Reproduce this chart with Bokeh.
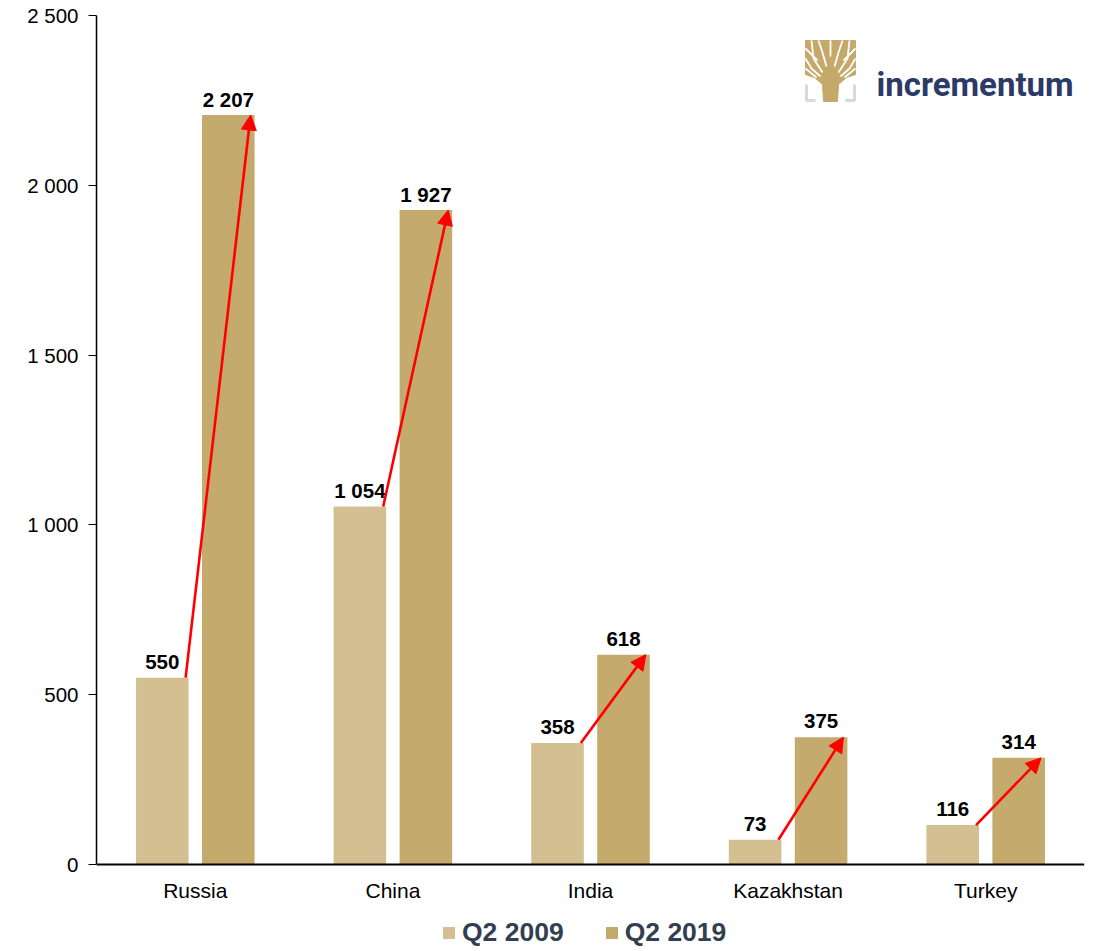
from bokeh.plotting import figure
from bokeh.models import (ColumnDataSource, Range1d, FixedTicker, Legend, LegendItem,
                          Arrow, NormalHead, Label, Span)
from bokeh.core.properties import value
from bokeh.embed import file_html
from bokeh.resources import INLINE

# ---- data ----
countries = ["Russia", "China", "India", "Kazakhstan", "Turkey"]
q2_2009 = [550, 1054, 358, 73, 116]
q2_2019 = [2207, 1927, 618, 375, 314]
y_ticks = [0, 500, 1000, 1500, 2000, 2500]
y_tick_labels = ["0", "500", "1 000", "1 500", "2 000", "2 500"]
series_names = ["Q2 2009", "Q2 2019"]

C_LIGHT = "#D3BF91"
C_DARK = "#C4AA6C"
FONT = "Liberation Sans"
Y_MAX = 2500

def fmt(v):
    return f"{v:,}".replace(",", " ")

idx = list(range(len(countries)))
centers = [i + 0.5 for i in idx]
OFF = 0.167
W = 0.266

src = ColumnDataSource(dict(
    c=centers,
    name=countries,
    zero=[0] * len(countries),
    x1=[c - OFF for c in centers],
    x2=[c + OFF for c in centers],
    v1=q2_2009,
    v2=q2_2019,
    l1=[fmt(v) for v in q2_2009],
    l2=[fmt(v) for v in q2_2019],
    xs=[c - OFF + W / 2 - 0.015 for c in centers],
    xe=[c + OFF + W / 2 - 0.02 for c in centers],
))

# layout: value axis 849 px tall, extra room below zero for labels & legend
PLOT_PX = 849
FRAME_H = 934
y_min = -Y_MAX * (FRAME_H - PLOT_PX) / PLOT_PX

p = figure(frame_width=988, frame_height=FRAME_H, output_backend="svg", toolbar_location=None,
           x_range=Range1d(0, 5), y_range=Range1d(y_min, Y_MAX), x_axis_location=None,
           min_border_left=96, min_border_right=2, min_border_top=15, min_border_bottom=0)
p.outline_line_color = None
p.xgrid.visible = False
p.ygrid.visible = False
p.background_fill_color = "white"

r1 = p.vbar(x="x1", top="v1", width=W, source=src, fill_color=C_LIGHT, line_color=None)
r2 = p.vbar(x="x2", top="v2", width=W, source=src, fill_color=C_DARK, line_color=None)

# x axis line at zero
p.add_layout(Span(location=0, dimension="width", line_color="black", line_width=2))

# category labels
p.text(x="c", y="zero", text="name", source=src, text_align="center", text_baseline="middle",
       y_offset=26, text_font=value(FONT), text_font_size="21px", text_color="black")

# arrows
p.add_layout(Arrow(end=NormalHead(size=15, fill_color="red", line_color="red", line_width=1),
                   x_start="xs", y_start="v1", x_end="xe", y_end="v2", source=src,
                   line_color="red", line_width=2.6))

# value labels
for xcol, ycol, lcol in (("x1", "v1", "l1"), ("x2", "v2", "l2")):
    p.text(x=xcol, y=ycol, text=lcol, source=src, text_align="center",
           text_baseline="alphabetic", y_offset=-16, text_font=value(FONT),
           text_font_style="bold", text_font_size="20.5px", text_color="black")

# y axis
p.yaxis.ticker = FixedTicker(ticks=y_ticks)
p.yaxis.bounds = (0, Y_MAX)
p.yaxis.major_label_overrides = {t: l for t, l in zip(y_ticks, y_tick_labels)}
p.yaxis.minor_tick_line_color = None
p.yaxis.major_tick_out = 8
p.yaxis.major_tick_in = 0
p.yaxis.major_tick_line_color = "black"
p.yaxis.axis_line_color = "black"
p.yaxis.axis_line_width = 1.5
p.yaxis.major_label_standoff = 10
p.yaxis.major_label_text_font = FONT
p.yaxis.major_label_text_font_size = "20.5px"
p.yaxis.major_label_text_color = "black"

# legend (inside the frame, under the category labels)
legend = Legend(items=[LegendItem(label=series_names[0], renderers=[r1]),
                       LegendItem(label=series_names[1], renderers=[r2])],
                orientation="horizontal", location=(345, 1),
                glyph_width=15, glyph_height=15, label_standoff=6, spacing=40,
                padding=0, margin=0, border_line_color=None, background_fill_alpha=0,
                label_text_font=FONT, label_text_font_style="bold",
                label_text_font_size="26.5px", label_text_color="#333F50")
p.add_layout(legend, "center")

# ---- logo (decoration) ----
def px2d(px, py):
    return ((px - 96) / 988 * 5, (864 - py) / PLOT_PX * Y_MAX)

def pts(lst):
    xs, ys = zip(*[px2d(a, b) for a, b in lst])
    return list(xs), list(ys)

GOLD = "#C5A96B"
GREY = "#D9D9D9"
for br in ([(806, 84), (806, 100), (815, 100)], [(854, 84), (854, 100), (845, 100)]):
    bx, by = pts(br)
    p.line(bx, by, line_color=GREY, line_width=3)
cx, cy = pts([(805, 40), (855, 40), (855, 74), (846, 77), (838, 84), (837, 101), (823, 101),
              (822, 84), (814, 77), (805, 74)])
p.patch(cx, cy, fill_color=GOLD, line_color=GOLD)
gaps = [
    [(826, 66), (822, 52), (818, 40)],
    [(834, 66), (838, 52), (842, 40)],
    [(830, 56), (830, 40)],
    [(822, 72), (813, 58), (811, 40)],
    [(838, 72), (847, 58), (849, 40)],
    [(820, 76), (811, 68), (805, 58)],
    [(840, 76), (849, 68), (855, 58)],
    [(816, 77), (805, 68)],
    [(844, 77), (855, 68)],
    [(817, 60), (805, 48)],
    [(843, 60), (855, 48)],
]
gxs, gys = [], []
for g in gaps:
    xx, yy = pts(g)
    gxs.append(xx)
    gys.append(yy)
p.multi_line(gxs, gys, line_color="white", line_width=1.8)

lx, ly = px2d(876, 84)
p.add_layout(Label(x=lx, y=ly, text="incrementum", text_font="Roboto", text_font_style="bold",
                   text_font_size="33px", text_color="#2B3A67", text_baseline="alphabetic"))

open("out.html", "w").write(file_html(p, INLINE))
